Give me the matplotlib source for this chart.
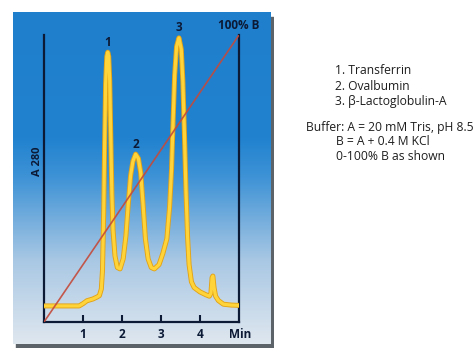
import numpy as np
import matplotlib.pyplot as plt
from matplotlib.colors import LinearSegmentedColormap
from matplotlib.patches import Rectangle

plt.rcParams['font.family'] = ['Open Sans', 'DejaVu Sans']

# chromatogram trace (time in min, relative A280)
time = [0.0, 0.5, 0.9, 1.0, 1.1, 1.25, 1.36, 1.42, 1.47, 1.5, 1.53, 1.555, 1.58,
        1.61, 1.635, 1.66, 1.685, 1.71, 1.74, 1.77, 1.82, 1.88, 1.95,
        2.03, 2.1, 2.16, 2.22, 2.28, 2.35, 2.42, 2.48, 2.54, 2.6, 2.67, 2.75, 2.83,
        2.95, 3.05, 3.15, 3.22, 3.27, 3.31, 3.35, 3.4, 3.46, 3.52, 3.56, 3.6, 3.64,
        3.68, 3.72, 3.78, 3.85, 4.0, 4.15, 4.24, 4.28, 4.31, 4.33, 4.36, 4.4, 4.47,
        4.6, 4.8, 4.97]
a280 = [0.056, 0.056, 0.056, 0.064, 0.074, 0.08, 0.087, 0.092, 0.115, 0.18, 0.38, 0.62, 0.83,
        0.925, 0.94, 0.925, 0.84, 0.66, 0.45, 0.32, 0.23, 0.19, 0.185,
        0.22, 0.3, 0.41, 0.51, 0.56, 0.585, 0.57, 0.52, 0.41, 0.29, 0.22, 0.19, 0.185,
        0.2, 0.24, 0.29, 0.4, 0.53, 0.7, 0.86, 0.96, 0.99, 0.95, 0.84, 0.66, 0.46,
        0.3, 0.2, 0.14, 0.12, 0.105, 0.095, 0.09, 0.1, 0.155, 0.16, 0.12, 0.09, 0.075,
        0.062, 0.059, 0.058]
gradient_b = [0, 100]           # % B from 0 to 5 min
gradient_t = [0, 5]
ticks = [1, 2, 3, 4]
peaks = {'1': (1.635, 0.94), '2': (2.35, 0.585), '3': (3.46, 0.99)}
proteins = ['1. Transferrin', '2. Ovalbumin', '3. \u03b2-Lactoglobulin-A']
buffer = ['Buffer: A = 20 mM Tris, pH 8.5', 'B = A + 0.4 M KCl', '0-100% B as shown']

W, H = 473, 360
fig = plt.figure(figsize=(W / 100, H / 100), dpi=100)
navy = '#0c1a36'

def box(x0, y0, x1, y1):
    return [x0 / W, 1 - y1 / H, (x1 - x0) / W, (y1 - y0) / H]

# shadow + blue panel
sh = fig.add_axes(box(13, 12, 274, 348))
sh.axis('off')
sh.add_patch(Rectangle((0.012, 0), 0.988, 0.985, color='#5d6469', transform=sh.transAxes))
bg = fig.add_axes(box(13, 12, 270, 344))
bg.axis('off')
cmap = LinearSegmentedColormap.from_list('panel', [(0, '#dfe7ef'), (0.25, '#a9c8e4'),
                                                   (0.5, '#3f93d6'), (0.62, '#2182cf'),
                                                   (1, '#1f7fcd')])
bg.imshow(np.linspace(0, 1, 256).reshape(-1, 1), cmap=cmap, aspect='auto',
          origin='lower', extent=[0, 1, 0, 1])

ax = fig.add_axes(box(44, 35, 239, 322))
ax.patch.set_alpha(0)
ax.set_xlim(0, 5)
ax.set_ylim(0, 1)
for s in ['left', 'right', 'bottom']:
    ax.spines[s].set_color(navy)
    ax.spines[s].set_linewidth(1.6)
ax.spines['top'].set_visible(False)
ax.set_yticks([])
ax.set_xticks(ticks)
ax.set_xticklabels([str(t) for t in ticks], fontsize=8.5, fontweight='bold', color=navy)
ax.tick_params(axis='x', direction='in', length=5, width=1.5, color=navy, pad=4)

ax.plot(time, a280, color='#e2a317', lw=3.6, solid_joinstyle='round', zorder=3)
ax.plot(time, a280, color='#ffd43a', lw=2.3, solid_joinstyle='round', zorder=4)
ax.plot(gradient_t, np.array(gradient_b) / 100, color='#c44a3a', lw=1.2, alpha=0.9, zorder=5)

for lab, (x, y) in peaks.items():
    ax.text(x, y + 0.012, lab, ha='center', va='bottom', fontsize=8.5,
            fontweight='bold', color=navy)
ax.text(5.0, 1.012, '100% B', ha='center', va='bottom', fontsize=8.5,
        fontweight='bold', color=navy)
ax.text(5.03, -0.022, 'Min', ha='center', va='top', fontsize=8.5,
        fontweight='bold', color=navy)
ax.text(-0.16, 0.56, 'A 280', rotation=90, ha='center', va='center', fontsize=8,
        fontweight='bold', color=navy)

fs = 8.7
for i, line in enumerate(proteins):
    fig.text(335 / W, 1 - (71 + 15 * i) / H, line, fontsize=fs, va='center', color='#1e1e1e')
fig.text(306 / W, 1 - 127 / H, buffer[0], fontsize=fs, va='center', color='#1e1e1e')
for i, line in enumerate(buffer[1:]):
    fig.text(336 / W, 1 - (142 + 15 * i) / H, line, fontsize=fs, va='center', color='#1e1e1e')

fig.savefig('out.png', dpi=100)
